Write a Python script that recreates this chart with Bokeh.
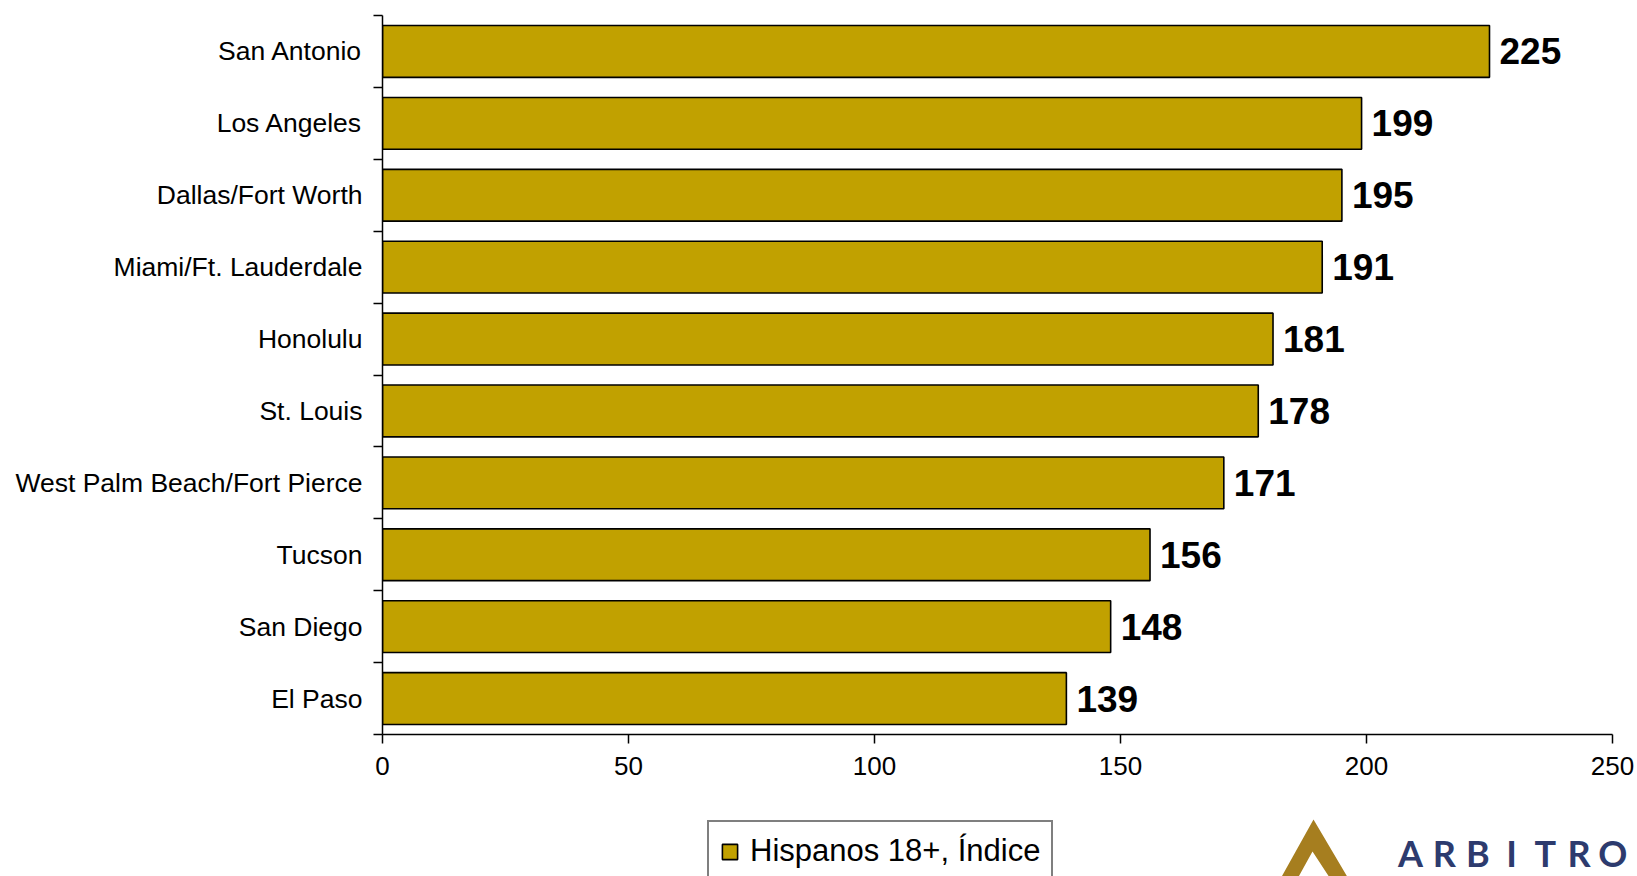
from bokeh.plotting import figure
from bokeh.layouts import column
from bokeh.models import (ColumnDataSource, Range1d, FixedTicker, Legend, LegendItem)
from bokeh.core.properties import value
from bokeh.embed import file_html
from bokeh.resources import INLINE

# ---- data ----
cities = ["San Antonio", "Los Angeles", "Dallas/Fort Worth", "Miami/Ft. Lauderdale",
          "Honolulu", "St. Louis", "West Palm Beach/Fort Pierce", "Tucson",
          "San Diego", "El Paso"]
values = [225, 199, 195, 191, 181, 178, 171, 156, 148, 139]
x_ticks = [0, 50, 100, 150, 200, 250]
series_name = "Hispanos 18+, Índice"
logo_text = "ARBITRO"

FONT = "Liberation Sans"
BAR = "#C1A100"

n = len(cities)
ypos = [n - i - 0.5 for i in range(n)]
src = ColumnDataSource(dict(city=cities, value=values, y=ypos,
                            label=[str(v) for v in values]))

W = 1637
H_MAIN = 790
H_FOOT = 876 - H_MAIN
L, T, B = 382, 15, H_MAIN - 734
AXIS_END_PX = 1612                      # where 250 sits
X_MAX = x_ticks[-1]
X_END = X_MAX * (W - L) / (AXIS_END_PX - L)   # frame runs to the right edge

p = figure(width=W, height=H_MAIN, output_backend="svg", toolbar_location=None,
           x_range=Range1d(0, X_END), y_range=Range1d(0, n),
           min_border_left=L, min_border_right=0, min_border_top=T, min_border_bottom=B)
p.outline_line_color = None
p.xgrid.visible = False
p.ygrid.visible = False

bar_style = dict(fill_color=BAR, line_color="black", line_width=1.6)
r = p.hbar(y="y", right="value", left=0, height=0.72, source=src, **bar_style)

p.text(x="value", y="y", text="label", source=src, x_offset=10,
       text_baseline="middle", text_align="left",
       text_font=value(FONT), text_font_style="bold", text_font_size="37px",
       text_color="black")

# x axis
xa = p.xaxis[0]
xa.ticker = FixedTicker(ticks=x_ticks)
xa.bounds = (0, X_MAX)
xa.axis_line_color = "black"
xa.axis_line_width = 1.5
xa.major_tick_line_color = "black"
xa.major_tick_line_width = 1.5
xa.major_tick_out = 9
xa.major_tick_in = 0
xa.minor_tick_line_color = None
xa.major_label_text_font = FONT
xa.major_label_text_font_size = "26px"
xa.major_label_text_color = "black"
xa.major_label_standoff = 13

# y axis: labels at centers, ticks at boundaries
ya = p.yaxis[0]
ya.ticker = FixedTicker(ticks=ypos, minor_ticks=list(range(n + 1)))
ya.major_label_overrides = {y: c for y, c in zip(ypos, cities)}
ya.axis_line_color = "black"
ya.axis_line_width = 1.5
ya.major_tick_out = 0
ya.major_tick_in = 0
ya.major_tick_line_color = None
ya.minor_tick_line_color = "black"
ya.minor_tick_line_width = 1.5
ya.minor_tick_out = 9
ya.minor_tick_in = 0
ya.major_label_text_font = FONT
ya.major_label_text_font_size = "26.5px"
ya.major_label_text_color = "black"
ya.major_label_standoff = 11

# ---- footer strip: legend + logo; its frame is aligned with the main frame,
# so its x data units equal page pixels, y runs downward from the strip top ----
f = figure(width=W, height=H_FOOT, output_backend="svg", toolbar_location=None,
           x_range=Range1d(L, W), y_range=Range1d(H_FOOT, 0),
           x_axis_location=None, y_axis_location=None,
           min_border_left=L, min_border_right=0,
           min_border_top=0, min_border_bottom=0)
f.grid.visible = False
f.outline_line_color = None

# legend proxy (not drawn: NaN position) with the same bar style
nan = float("nan")
proxy = f.hbar(y=[nan], right=[nan], left=[nan], height=1, **bar_style)
legend = Legend(items=[LegendItem(label=series_name, renderers=[proxy], index=0)],
                location=(707 - L, -6), orientation="vertical",
                border_line_color="black", border_line_width=2,
                padding=11, margin=0, glyph_width=19, glyph_height=19,
                label_standoff=11, label_text_font=FONT,
                label_text_font_size="31px", label_text_color="black",
                background_fill_color="white", background_fill_alpha=1)
f.add_layout(legend, "center")

# logo chevron (decoration)
top = H_MAIN
chev_x = [1313, 1349, 1331, 1312, 1296, 1279]
chev_y = [v - top for v in [819, 880, 880, 851, 880, 880]]
f.patch(chev_x, chev_y, fill_color="#A67E1F", line_color=None)

start, step = 1410, 33.7
f.text(x=[start + i * step for i in range(len(logo_text))],
       y=[852 - top] * len(logo_text), text=list(logo_text),
       text_align="center", text_baseline="middle",
       text_font=value("Lato"), text_font_style="bold", text_font_size="36px",
       text_color="#2D3B6E")

layout = column(p, f, spacing=0)
open("out.html", "w").write(file_html(layout, INLINE))
